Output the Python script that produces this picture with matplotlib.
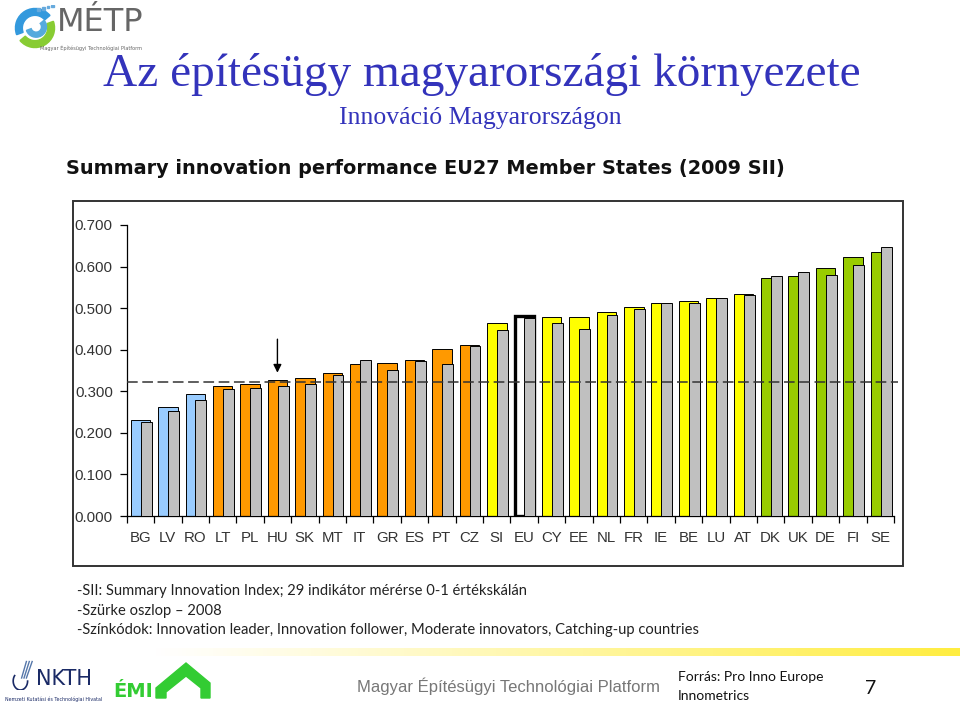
import numpy as np
import matplotlib
matplotlib.use("Agg")
import matplotlib.pyplot as plt
from matplotlib.patches import Rectangle, Polygon, Wedge

W, H = 960, 706

countries = ["BG", "LV", "RO", "LT", "PL", "HU", "SK", "MT", "IT", "GR", "ES", "PT", "CZ", "SI",
             "EU", "CY", "EE", "NL", "FR", "IE", "BE", "LU", "AT", "DK", "UK", "DE", "FI", "SE"]
sii_2009 = [0.231, 0.261, 0.293, 0.313, 0.317, 0.326, 0.331, 0.343, 0.365, 0.367, 0.375, 0.402, 0.411, 0.465,
            0.480, 0.478, 0.478, 0.491, 0.502, 0.513, 0.518, 0.524, 0.534, 0.572, 0.577, 0.596, 0.622, 0.636]
sii_2008 = [0.225, 0.253, 0.279, 0.305, 0.307, 0.313, 0.317, 0.338, 0.375, 0.351, 0.373, 0.365, 0.409, 0.447,
            0.476, 0.465, 0.449, 0.484, 0.497, 0.513, 0.513, 0.524, 0.532, 0.577, 0.587, 0.580, 0.603, 0.646]
groups = ["catching"] * 3 + ["moderate"] * 10 + ["follower"] + ["eu"] + ["follower"] * 8 + ["leader"] * 5
eu_average = 0.322
y_ticks = [0.0, 0.1, 0.2, 0.3, 0.4, 0.5, 0.6, 0.7]

group_colors = {"catching": "#99ccff", "moderate": "#ff9900", "follower": "#ffff00",
                "leader": "#99cc00", "eu": "#ffffff"}


def fx(x):
    return x / W


def fy(y):
    return 1 - y / H


fig = plt.figure(figsize=(9.6, 7.06), dpi=100)
fig.patch.set_facecolor("white")

# --- header ---
fig.text(fx(482), fy(86), "Az építésügy magyarországi környezete", family="Liberation Serif",
         fontsize=34, color="#3333bb", ha="center", va="baseline")
fig.text(fx(480), fy(124), "Innováció Magyarországon", family="Liberation Serif",
         fontsize=18.5, color="#3333bb", ha="center", va="baseline")

# MÉTP logo (rough)
lax = fig.add_axes([fx(12), fy(52), fx(46), 48 / H])
lax.set_xlim(-1, 1)
lax.set_ylim(-1, 1)
lax.set_aspect("equal")
lax.axis("off")
lax.add_patch(Wedge((0, 0), 0.85, 40, 200, width=0.3, color="#3399dd"))
lax.add_patch(Wedge((0, 0), 0.85, 220, 20, width=0.3, color="#88cc33"))
lax.add_patch(Wedge((0.05, 0.05), 0.45, 200, 40, width=0.22, color="#55aadd"))
for k in range(4):
    lax.add_patch(Rectangle((0.1 + 0.2 * k, 0.75 + 0.05 * k), 0.12, 0.12, color="#66aadd"))
fig.text(fx(57), fy(31), "MÉTP", family="DejaVu Sans", fontsize=23, color="#666666",
         va="baseline", ha="left")
fig.text(fx(40), fy(50), "Magyar Építésügyi Technológiai Platform", fontsize=3.6,
         color="#666666", va="baseline", ha="left")

# chart title
fig.text(fx(425), fy(168), "Summary innovation performance EU27 Member States (2009 SII)",
         family="DejaVu Sans", weight="bold", fontsize=13.9, color="#111111",
         ha="center", va="center")

# chart frame
fig.add_artist(Rectangle((fx(73), fy(566)), fx(903) - fx(73), fy(201) - fy(566),
                         transform=fig.transFigure, fill=False, edgecolor="#333333", lw=1.4))

# --- bar chart ---
ax = fig.add_axes([fx(126.7), fy(516), fx(894) - fx(126.7), fy(225) - fy(516)])
x = np.arange(len(countries))
for i in x:
    g = groups[i]
    if g == "eu":
        ax.bar(i + 0.17, sii_2009[i], width=0.68, align="edge", color="white",
               edgecolor="black", lw=2.4, zorder=2)
    else:
        ax.bar(i + 0.15, sii_2009[i], width=0.71, align="edge", color=group_colors[g],
               edgecolor="black", lw=0.7, zorder=2)
ax.bar(x + 0.51, sii_2008, width=0.40, align="edge", color="#c0c0c0",
       edgecolor="black", lw=0.7, zorder=3)

ax.plot([0, 28.15], [eu_average, eu_average], color="#333333", lw=1.1,
        dashes=(7, 3), zorder=4, clip_on=False)
ax.annotate("", xy=(5.5, 0.338), xytext=(5.5, 0.432),
            arrowprops=dict(arrowstyle="-|>", color="black", lw=1.0, mutation_scale=12),
            zorder=5)

ax.set_xlim(0, 28)
ax.set_ylim(0, 0.7)
ax.set_yticks(y_ticks)
ax.set_yticklabels([f"{v:.3f}" for v in y_ticks])
ax.set_xticks(x + 0.5)
ax.set_xticklabels(countries)
ax.set_xticks(np.arange(len(countries) + 1), minor=True)
ax.tick_params(axis="x", which="major", length=0, pad=11, labelsize=10.8, labelcolor="#333333")
ax.tick_params(axis="x", which="minor", length=5, direction="out", color="black", width=0.9)
ax.tick_params(axis="y", length=5, direction="out", pad=5, labelsize=10.8, labelcolor="#333333",
               width=0.9)
for s in ["top", "right"]:
    ax.spines[s].set_visible(False)
for s in ["left", "bottom"]:
    ax.spines[s].set_linewidth(0.9)
ax.patch.set_alpha(0)
for lab in ax.get_xticklabels() + ax.get_yticklabels():
    lab.set_family("Liberation Sans")

# --- notes ---
notes = ["-SII: Summary Innovation Index; 29 indikátor mérérse 0-1 értékskálán",
         "-Szürke oszlop \u2013 2008",
         "-Színkódok: Innovation leader, Innovation follower, Moderate innovators, Catching-up countries"]
for k, line in enumerate(notes):
    fig.text(fx(77), fy(591 + 19.5 * k), line, family="Lato", fontsize=10.6, color="#222222",
             ha="left", va="center")

# --- footer ---
gax = fig.add_axes([fx(150), fy(656), 1 - fx(150), 8 / H])
grad = np.linspace(0, 1, 400) ** 1.1
rgba = np.zeros((1, 400, 4))
rgba[..., 0] = 1.0
rgba[..., 1] = 0.93
rgba[..., 2] = 0.25
rgba[..., 3] = grad
gax.imshow(rgba, aspect="auto")
gax.axis("off")

fig.text(fx(357), fy(686), "Magyar Építésügyi Technológiai Platform", family="Liberation Sans",
         fontsize=12, color="#777777", ha="left", va="center")
fig.text(fx(678), fy(677), "Forrás: Pro Inno Europe", family="Lato", fontsize=10,
         color="#111111", ha="left", va="center")
fig.text(fx(678), fy(696), "Innometrics", family="Lato", fontsize=10,
         color="#111111", ha="left", va="center")
fig.text(fx(871), fy(688), "7", family="Lato", fontsize=14, color="#111111",
         ha="center", va="center")

# NKTH logo (rough)
fig.text(fx(36), fy(685), "NKTH", family="DejaVu Sans", fontsize=15, color="#1a2a66",
         ha="left", va="baseline")
fig.text(fx(5), fy(701), "Nemzeti Kutatási és Technológiai Hivatal", fontsize=3.4,
         color="#1a2a66", ha="left", va="baseline")
nax = fig.add_axes([fx(12), fy(690), fx(24), 30 / H])
nax.set_xlim(0, 1)
nax.set_ylim(0, 1)
nax.axis("off")
t = np.linspace(0, np.pi * 1.2, 50)
nax.plot(0.35 + 0.3 * np.cos(t + 2.5), 0.3 + 0.3 * np.sin(t + 2.5), color="#1a2a66", lw=1.2)
for k in range(3):
    nax.plot([0.4 + 0.1 * k, 0.6 + 0.12 * k], [0.4, 0.95], color="#5577aa", lw=1.0)

# ÉMI logo (rough)
fig.text(fx(113), fy(697), "ÉMI", family="DejaVu Sans", weight="bold", fontsize=14,
         color="#33cc33", ha="left", va="baseline")
fig.add_artist(Polygon([[fx(156), fy(698)], [fx(156), fy(688)], [fx(186), fy(663)],
                        [fx(210), fy(683)], [fx(210), fy(698)], [fx(201), fy(698)],
                        [fx(201), fy(688)], [fx(186), fy(676)], [fx(166), fy(692)],
                        [fx(166), fy(698)]],
                       closed=True, transform=fig.transFigure, color="#33cc33"))

fig.savefig("out.png", dpi=100, facecolor="white")
